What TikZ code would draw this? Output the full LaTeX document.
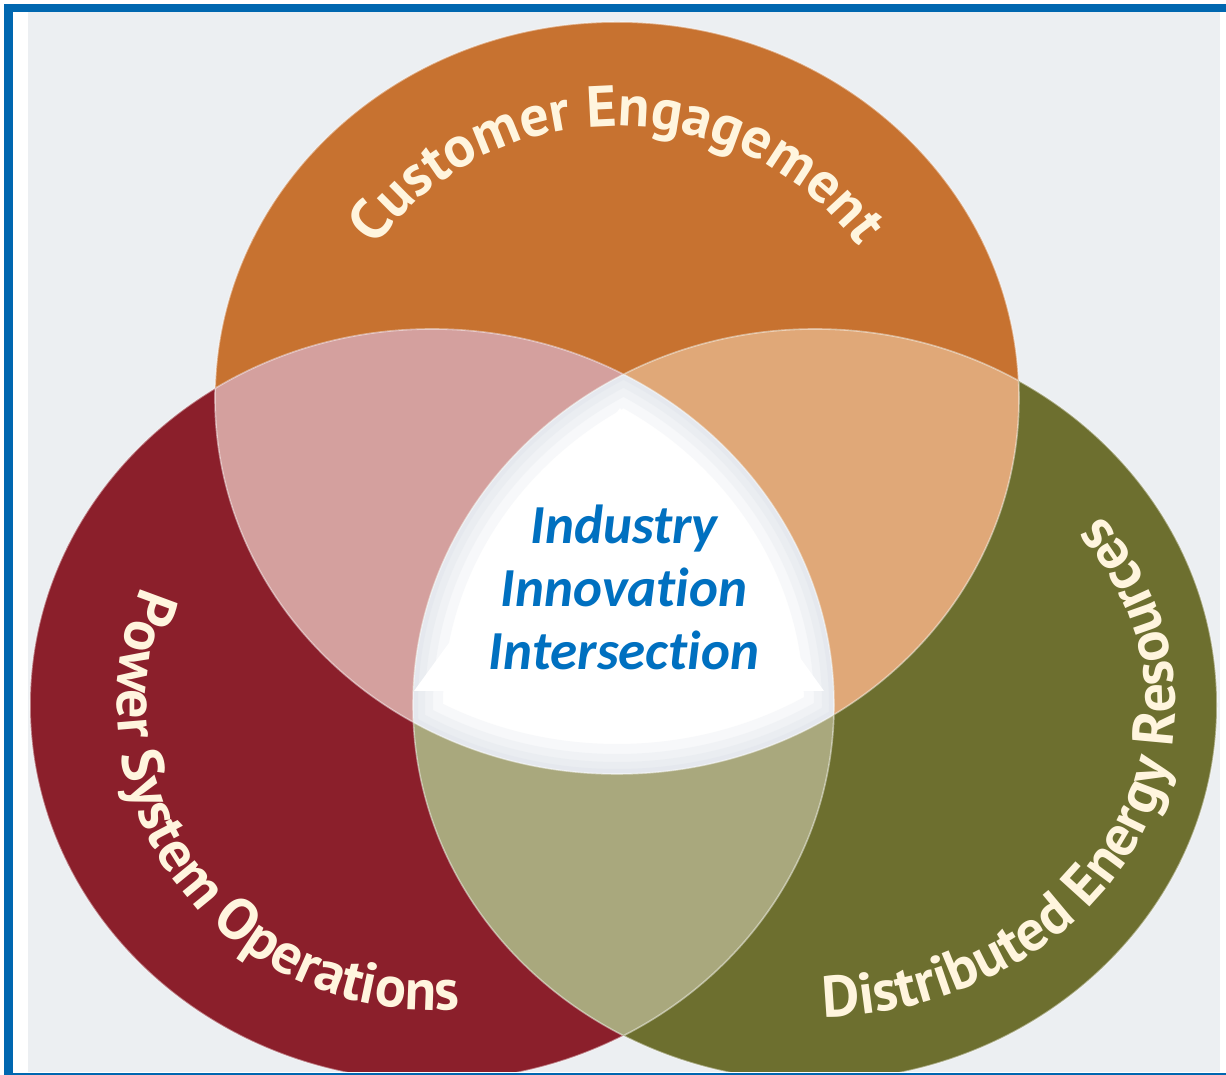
\documentclass[tikz,border=0pt]{standalone}
\usepackage{fontspec}
\usepackage{tikz}
\usetikzlibrary{decorations.text}
\newfontfamily\arcfont{PT Sans}
\newfontfamily\centerfont{Carlito}[Ligatures=NoCommon]

\definecolor{frameblue}{RGB}{0,103,176}
\definecolor{bggray}{RGB}{236,239,242}
\definecolor{custorange}{RGB}{199,114,48}
\definecolor{powerred}{RGB}{139,31,43}
\definecolor{derolive}{RGB}{109,111,47}
\definecolor{pinkmix}{RGB}{212,160,158}
\definecolor{peachmix}{RGB}{224,168,120}
\definecolor{khakimix}{RGB}{169,168,125}
\definecolor{labelcream}{RGB}{255,245,222}
\definecolor{textblue}{RGB}{0,112,192}
\definecolor{glowgray}{RGB}{196,206,218}

\begin{document}
\begin{tikzpicture}[x=0.5pt, y=0.5pt,
    venn/.style={x radius=402, y radius=376},
    arclabel/.style={decorate, decoration={text along path, text align=center,
        text color=labelcream, text={|\arcfont\bfseries\fontsize{29}{29}\selectfont|#1}}},
    centertext/.style={align=center, text=textblue,
        font=\centerfont\bfseries\itshape\fontsize{27.5}{31.5}\selectfont}]

        % page and background
        \fill[white] (0,0) rectangle (1226,1075);
        \fill[bggray] (28,3) rectangle (1220,1063);

        \coordinate (ctop) at (617,677);
        \coordinate (cleft) at (432,370);
        \coordinate (cright) at (815,370);

        \begin{scope}
        \clip (13,3) rectangle (1220,1063);

        % the three circles
        \fill[custorange] (ctop) circle[venn];
        \fill[powerred] (cleft) circle[venn];
        \fill[derolive] (cright) circle[venn];

        % pairwise overlaps
        \begin{scope}
        \clip (ctop) circle[venn];
        \fill[pinkmix] (cleft) circle[venn];
        \fill[peachmix] (cright) circle[venn];
        \end{scope}
        \begin{scope}
        \clip (cleft) circle[venn];
        \fill[khakimix] (cright) circle[venn];
        \end{scope}

        % centre, with a soft rim
        \begin{scope}
        \clip (ctop) circle[venn];
        \clip (cleft) circle[venn];
        \clip (cright) circle[venn];
        \fill[white] (cright) circle[venn];
        \foreach \w in {30,20,12,5}
          \draw[glowgray, opacity=0.13, line width=\w]
            (ctop) circle[venn] (cleft) circle[venn] (cright) circle[venn];
        \end{scope}

        \draw[white, opacity=0.45, line width=0.8pt]
          (ctop) circle[venn] (cleft) circle[venn] (cright) circle[venn];
        \end{scope}

        % triangle and centre text
        \fill[white] (620,667) -- (824,384) -- (414,384) -- cycle;
        \node[centertext] (iii) at (624,488) {Industry\\Innovation\\Intersection};

        % labels round the circles
        \path[arclabel={Customer Engagement}]
          ([shift={(155:290 and 272)}]ctop) arc[start angle=155, end angle=25, x radius=290, y radius=272];
        \path[arclabel={Power System Operations}]
          ([shift={(142:315 and 305)}]cleft) arc[start angle=142, end angle=290, x radius=315, y radius=305];
        \path[arclabel={Distributed Energy Resources}]
          ([shift={(245:360 and 312)}]cright) arc[start angle=245, end angle=425, x radius=360, y radius=312];

        % frame
        \fill[frameblue] (4,0) rectangle (13,1071);
        \fill[frameblue] (4,1063) rectangle (1226,1071);
        \fill[frameblue] (4,0) rectangle (1226,2);

\end{tikzpicture}
\end{document}
